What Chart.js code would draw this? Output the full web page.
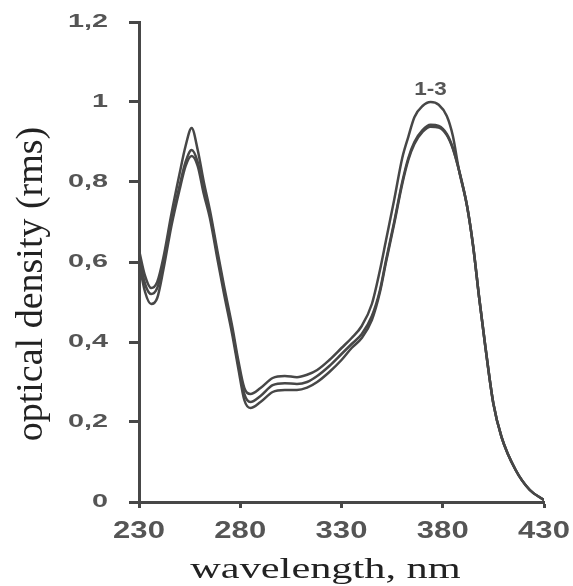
<!DOCTYPE html>
<html>
<head>
<meta charset="utf-8">
<script src="https://cdn.jsdelivr.net/npm/chart.js@4"></script>
<style>
  html, body { margin: 0; padding: 0; background: #fff; }
  #wrap { width: 573px; height: 586px; position: relative; }
</style>
</head>
<body>
<div id="wrap"><canvas id="spectrum"></canvas></div>
<script>
// wavelength grid, nm
const wavelengths = [230, 233, 236, 239, 242, 246, 250, 253, 256, 259, 262, 265, 269, 272, 276, 279, 282, 285, 290, 296,
  302, 308, 313, 318, 324, 330, 335, 340, 345, 349, 352, 356, 360, 363, 366, 370, 374, 378, 382, 385,
  388, 392, 395, 398, 401, 405, 409, 416, 423, 430];

// optical density of the three samples
const curve1 = [0.63, 0.565, 0.535, 0.55, 0.61, 0.72, 0.82, 0.89, 0.935, 0.88, 0.80, 0.73, 0.62, 0.54, 0.44, 0.355, 0.285, 0.27, 0.285, 0.31,
  0.315, 0.312, 0.318, 0.33, 0.355, 0.385, 0.41, 0.44, 0.495, 0.58, 0.655, 0.755, 0.86, 0.913, 0.962, 0.99, 1.0, 0.993, 0.965, 0.915,
  0.83, 0.74, 0.64, 0.51, 0.39, 0.246, 0.163, 0.08, 0.03, 0.005];
const curve2 = [0.615, 0.545, 0.52, 0.535, 0.595, 0.70, 0.79, 0.85, 0.88, 0.85, 0.78, 0.72, 0.61, 0.53, 0.43, 0.345, 0.27, 0.25, 0.265, 0.292,
  0.297, 0.295, 0.30, 0.315, 0.34, 0.37, 0.395, 0.42, 0.465, 0.53, 0.605, 0.70, 0.80, 0.86, 0.90, 0.93, 0.943, 0.94, 0.92, 0.885,
  0.83, 0.74, 0.64, 0.51, 0.39, 0.246, 0.163, 0.08, 0.03, 0.005];
const curve3 = [0.60, 0.525, 0.495, 0.51, 0.58, 0.69, 0.78, 0.84, 0.865, 0.84, 0.77, 0.71, 0.60, 0.52, 0.42, 0.335, 0.255, 0.235, 0.25, 0.275,
  0.28, 0.28, 0.286, 0.30, 0.325, 0.355, 0.385, 0.41, 0.455, 0.525, 0.60, 0.695, 0.795, 0.855, 0.895, 0.925, 0.938, 0.936, 0.917, 0.883,
  0.83, 0.74, 0.64, 0.51, 0.39, 0.246, 0.163, 0.08, 0.03, 0.005];

const xTicks = [230, 280, 330, 380, 430];
const yTicks = [0, 0.2, 0.4, 0.6, 0.8, 1, 1.2];
const yTickLabels = ['0', '0,2', '0,4', '0,6', '0,8', '1', '1,2'];
const xTitle = 'wavelength, nm';
const yTitle = 'optical density (rms)';
const peakLabel = { text: '1-3', x: 374, y: 1.03 };

const INK = '#474747';

// text stretched horizontally around its anchor
function wideText(ctx, text, px, py, sx) {
  ctx.save();
  ctx.translate(px, py);
  ctx.scale(sx, 1);
  ctx.fillText(text, 0, 0);
  ctx.restore();
}

// tick labels, titles and the curve label, placed from the scales
const labelsPlugin = {
  id: 'labelsPlugin',
  afterDraw(chart) {
    const { ctx, chartArea, scales: { x, y } } = chart;
    ctx.save();
    ctx.fillStyle = '#555';
    ctx.textBaseline = 'middle';

    ctx.font = 'bold 23px "Liberation Sans", Arial, sans-serif';
    ctx.textAlign = 'center';
    xTicks.forEach(v => wideText(ctx, String(v), x.getPixelForValue(v), chartArea.bottom + 30, 1.35));

    ctx.font = 'bold 18px "Liberation Sans", Arial, sans-serif';
    ctx.textAlign = 'right';
    yTicks.forEach((v, i) => wideText(ctx, yTickLabels[i], chartArea.left - 31, y.getPixelForValue(v), 1.6));

    ctx.textAlign = 'center';
    wideText(ctx, peakLabel.text, x.getPixelForValue(peakLabel.x), y.getPixelForValue(peakLabel.y), 1.25);

    ctx.fillStyle = '#222';
    ctx.textBaseline = 'alphabetic';
    ctx.font = '29px "Liberation Serif", "Times New Roman", serif';
    wideText(ctx, xTitle, (chartArea.left + chartArea.right) / 2 - 16, chartArea.bottom + 76, 1.46);

    ctx.font = '38px "Liberation Serif", "Times New Roman", serif';
    ctx.translate(42, 284);
    ctx.rotate(-Math.PI / 2);
    ctx.fillText(yTitle, 0, 0);
    ctx.restore();
  }
};

function series(data) {
  return {
    data: data.map((v, i) => ({ x: wavelengths[i], y: v })),
    borderColor: INK,
    borderWidth: 2.5,
    pointRadius: 0,
    cubicInterpolationMode: 'monotone',
    fill: false
  };
}

new Chart(document.getElementById('spectrum'), {
  type: 'line',
  data: { datasets: [series(curve1), series(curve2), series(curve3)] },
  options: {
    responsive: true,
    maintainAspectRatio: false,
    animation: false,
    layout: { padding: { left: 128, right: 29, top: 22, bottom: 76 } },
    plugins: { legend: { display: false }, tooltip: { enabled: false } },
    scales: {
      x: {
        type: 'linear',
        min: 230,
        max: 430,
        afterBuildTicks: s => { s.ticks = xTicks.map(v => ({ value: v })); },
        afterFit: s => { s.height = 8; },
        ticks: { display: false },
        grid: { drawOnChartArea: false, drawTicks: true, tickLength: 6, tickWidth: 3, color: INK },
        border: { display: true, color: INK, width: 3 }
      },
      y: {
        min: 0,
        max: 1.2,
        afterBuildTicks: s => { s.ticks = yTicks.map(v => ({ value: v })); },
        afterFit: s => { s.width = 11; },
        ticks: { display: false },
        grid: { drawOnChartArea: false, drawTicks: true, tickLength: 10, tickWidth: 3, color: INK },
        border: { display: true, color: INK, width: 3 }
      }
    }
  },
  plugins: [labelsPlugin]
});
</script>
</body>
</html>
